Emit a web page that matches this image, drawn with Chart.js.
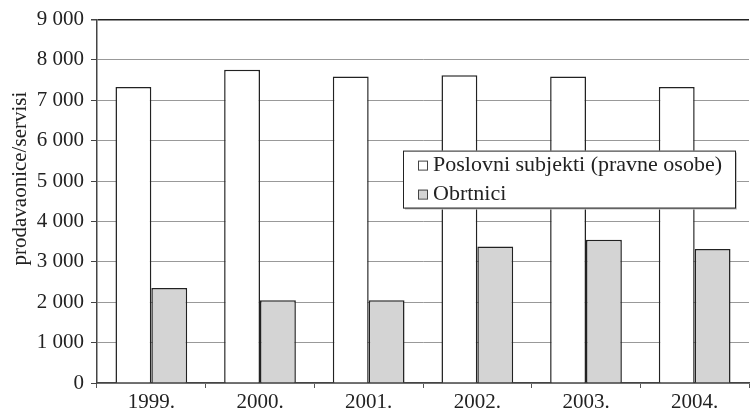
<!DOCTYPE html>
<html>
<head>
<meta charset="utf-8">
<script src="https://cdn.jsdelivr.net/npm/chart.js@4"></script>
<style>
  html, body { margin: 0; padding: 0; background: #fff; }
  canvas { display: block; }
</style>
</head>
<body>
<canvas id="chart" width="750" height="409"></canvas>
<script>
const years = ['1999.', '2000.', '2001.', '2002.', '2003.', '2004.'];
const poslovniSubjekti = [7330, 7760, 7590, 7620, 7590, 7330];
const obrtnici = [2350, 2050, 2050, 3380, 3550, 3320];
const seriesNames = ['Poslovni subjekti (pravne osobe)', 'Obrtnici'];
const yTicks = [0, 1000, 2000, 3000, 4000, 5000, 6000, 7000, 8000, 9000];
const yTitle = 'prodavaonice/servisi';

const serif = "'Liberation Serif', 'Times New Roman', serif";
const ink = '#222';

// thousands with a space: 9 000
function fmt(v) {
  return String(v).replace(/\B(?=(\d{3})+(?!\d))/g, ' ');
}

// rotated axis title, sitting a little above the middle of the axis
const sideTitle = {
  id: 'sideTitle',
  afterDraw(chart) {
    const ctx = chart.ctx;
    const area = chart.chartArea;
    ctx.save();
    ctx.translate(20, area.top + 159);
    ctx.rotate(-Math.PI / 2);
    ctx.font = '21px ' + serif;
    ctx.fillStyle = ink;
    ctx.textAlign = 'center';
    ctx.textBaseline = 'middle';
    ctx.fillText(yTitle, 0, 0);
    ctx.restore();
  }
};

// boxed legend inside the plot, right side
const boxLegend = {
  id: 'boxLegend',
  afterDraw(chart) {
    const ctx = chart.ctx;
    const area = chart.chartArea;
    const x = area.right - 346, y = area.top + 131, w = 332, h = 57;
    ctx.save();
    ctx.fillStyle = '#c4c4c4';
    ctx.fillRect(x + 2, y + 2, w, h);
    ctx.fillStyle = '#fff';
    ctx.fillRect(x, y, w, h);
    ctx.strokeStyle = ink;
    ctx.lineWidth = 1;
    ctx.strokeRect(x + 0.5, y + 0.5, w, h);
    ctx.font = '22px ' + serif;
    ctx.textBaseline = 'middle';
    chart.data.datasets.forEach((ds, i) => {
      const cy = y + 14 + i * 29;
      ctx.fillStyle = ds.backgroundColor;
      ctx.fillRect(x + 15, cy - 4, 9, 9);
      ctx.strokeStyle = '#444';
      ctx.strokeRect(x + 15.5, cy - 3.5, 9, 9);
      ctx.fillStyle = ink;
      ctx.fillText(ds.label, x + 30, cy + 1);
    });
    ctx.restore();
  }
};

new Chart(document.getElementById('chart'), {
  type: 'bar',
  data: {
    labels: years,
    datasets: [
      {
        label: seriesNames[0],
        data: poslovniSubjekti,
        backgroundColor: '#ffffff',
        borderColor: ink,
        borderWidth: 1.5
      },
      {
        label: seriesNames[1],
        data: obrtnici,
        backgroundColor: '#d4d4d4',
        borderColor: ink,
        borderWidth: 1.5
      }
    ]
  },
  options: {
    responsive: false,
    animation: false,
    devicePixelRatio: 1,
    layout: { padding: { top: 18, right: 1, left: 0, bottom: 0 } },
    datasets: {
      bar: { categoryPercentage: 0.66, barPercentage: 1.0 }
    },
    plugins: {
      legend: { display: false },
      tooltip: { enabled: false }
    },
    scales: {
      x: {
        grid: {
          drawOnChartArea: false,
          drawTicks: true,
          tickLength: 5,
          tickColor: '#555'
        },
        border: { color: '#444', width: 1.5 },
        ticks: {
          color: ink,
          padding: 2,
          font: { family: serif, size: 21 }
        },
        afterFit(scale) { scale.height = 26; }
      },
      y: {
        min: 0,
        max: 9000,
        afterBuildTicks(scale) {
          scale.ticks = yTicks.map(v => ({ value: v }));
        },
        grid: {
          color: ctx => (ctx.tick && ctx.tick.value === 9000 ? '#222' : '#999'),
          lineWidth: ctx => (ctx.tick && ctx.tick.value === 9000 ? 1.5 : 1),
          tickLength: 6,
          tickColor: '#444'
        },
        border: { color: '#444', width: 1.5 },
        ticks: {
          color: ink,
          padding: 7,
          font: { family: serif, size: 21 },
          callback: v => fmt(v)
        },
        afterFit(scale) { scale.width = 97; }
      }
    }
  },
  plugins: [sideTitle, boxLegend]
});
</script>
</body>
</html>
